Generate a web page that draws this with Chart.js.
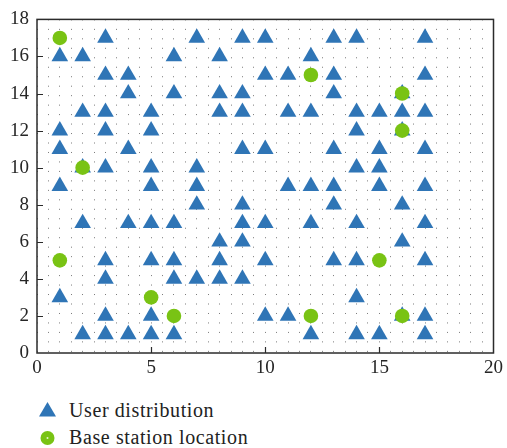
<!DOCTYPE html>
<html>
<head>
<meta charset="utf-8">
<script src="https://cdn.jsdelivr.net/npm/chart.js@4.4.1/dist/chart.umd.min.js"></script>
<style>
  html, body { margin: 0; padding: 0; background: #ffffff; }
  #wrap { position: relative; width: 507px; height: 448px; overflow: hidden; }
  #c { position: absolute; left: 0; top: 0; }
  .lg { position: absolute; left: 69px; font-family: "Liberation Serif", serif; font-size: 20px; line-height: 20px; letter-spacing: 0.6px; color: #222; white-space: nowrap; }
  .mk { position: absolute; }
</style>
</head>
<body>
<div id="wrap">
  <canvas id="c" width="507" height="392"></canvas>
  <svg class="mk" style="left:38px;top:400px" width="20" height="20">
    <polygon points="9.5,2 18,16.5 1,16.5" fill="#2f75b6"/>
  </svg>
  <div class="lg" id="lg1" style="top:400px"></div>
  <svg class="mk" style="left:38px;top:428px" width="20" height="20">
    <circle cx="9.5" cy="10" r="7" fill="#79c314"/>
    <circle cx="9.5" cy="10" r="1" fill="#e8f5d0"/>
  </svg>
  <div class="lg" id="lg2" style="top:427px"></div>
</div>
<script>
// ---- data ----
const seriesNames = ["User distribution", "Base station location"];

// user positions, one row per y value
const userRowY = [17, 16, 15, 14, 13, 12, 11, 10, 9, 8, 7, 6, 5, 4, 3, 2, 1];
const userRowX = [
  [3, 7, 9, 10, 13, 14, 17],
  [1, 2, 6, 8, 12],
  [3, 4, 10, 11, 13, 17],
  [4, 6, 8, 9, 13, 16],
  [2, 3, 5, 8, 9, 11, 12, 14, 15, 16, 17],
  [1, 3, 5, 14, 16],
  [1, 4, 9, 10, 13, 15, 17],
  [2, 3, 5, 7, 14, 15],
  [1, 5, 7, 11, 12, 13, 15, 17],
  [7, 9, 13, 16],
  [2, 4, 5, 6, 9, 10, 12, 14, 17],
  [8, 9, 16],
  [3, 5, 6, 8, 10, 13, 14, 17],
  [3, 6, 7, 8, 9],
  [1, 14],
  [3, 5, 10, 11, 16, 17],
  [2, 3, 4, 5, 6, 12, 14, 15, 17]
];

// base station positions
const baseX = [1, 12, 16, 16, 2, 1, 15, 5, 6, 12, 16];
const baseY = [17, 15, 14, 12, 10, 5, 5, 3, 2, 2, 2];

// axis tick labels
const xTickLabels = [0, 5, 10, 15, 20];
const yTickLabels = [0, 2, 4, 6, 8, 10, 12, 14, 16, 18];

// ---- build ----
const userPts = [];
userRowY.forEach((yv, i) => userRowX[i].forEach(xv => userPts.push({ x: xv, y: yv })));
const basePts = baseX.map((xv, i) => ({ x: xv, y: baseY[i] }));

document.getElementById('lg1').textContent = seriesNames[0];
document.getElementById('lg2').textContent = seriesNames[1];

Chart.defaults.font.family = '"Liberation Serif", serif';
Chart.defaults.font.size = 19;

const frameTicks = {
  id: 'frameTicks',
  beforeDatasetsDraw(chart) {
    const { ctx, chartArea: a, scales } = chart;
    const sx = scales.x, sy = scales.y;
    ctx.save();
    ctx.strokeStyle = '#2b2b2b';
    ctx.lineWidth = 1.5;
    ctx.strokeRect(a.left, a.top, a.right - a.left, a.bottom - a.top);
    ctx.lineWidth = 1.2;
    ctx.beginPath();
    xTickLabels.slice(1, -1).forEach(v => {
      const px = Math.round(sx.getPixelForValue(v)) + 0.5;
      ctx.moveTo(px, a.bottom);
      ctx.lineTo(px, a.bottom - 6);
    });
    yTickLabels.slice(1, -1).forEach(v => {
      const py = Math.round(sy.getPixelForValue(v)) + 0.5;
      ctx.moveTo(a.left, py);
      ctx.lineTo(a.left + 6, py);
    });
    ctx.stroke();
    ctx.restore();
  }
};

const tickFont = { family: '"Liberation Serif", serif', size: 19 };

const chart = new Chart(document.getElementById('c'), {
  type: 'scatter',
  data: {
    datasets: [
      {
        label: seriesNames[1],
        data: basePts,
        pointStyle: 'circle',
        pointRadius: 7.3,
        pointHoverRadius: 7.3,
        backgroundColor: '#79c314',
        borderWidth: 0,
        order: 0
      },
      {
        label: seriesNames[0],
        data: userPts,
        pointStyle: 'triangle',
        pointRadius: 9.6,
        pointHoverRadius: 9.6,
        backgroundColor: '#2f75b6',
        borderWidth: 0,
        order: 1
      }
    ]
  },
  options: {
    responsive: false,
    animation: false,
    devicePixelRatio: 1,
    layout: { padding: { top: 11, right: 10, left: 0, bottom: 0 } },
    plugins: { legend: { display: false }, tooltip: { enabled: false } },
    scales: {
      x: {
        type: 'linear',
        min: 0, max: 20,
        afterFit(s) { s.height = 39; },
        ticks: {
          stepSize: 0.5,
          autoSkip: false,
          maxRotation: 0,
          padding: 4,
          color: '#262626',
          font: tickFont,
          callback: v => xTickLabels.includes(v) ? String(v) : ''
        },
        grid: { color: '#7a7a7a', lineWidth: 1, drawTicks: false },
        border: { display: false, dash: [1, 8.47] }
      },
      y: {
        type: 'linear',
        min: 0, max: 18,
        afterFit(s) { s.width = 37; },
        ticks: {
          stepSize: 0.5,
          autoSkip: false,
          padding: 8,
          color: '#262626',
          font: tickFont,
          callback: v => yTickLabels.includes(v) ? String(v) : ''
        },
        grid: { color: 'rgba(0,0,0,0)', lineWidth: 1, drawTicks: false },
        border: { display: false }
      }
    }
  },
  plugins: [frameTicks]
});

if (document.fonts && document.fonts.load) {
  document.fonts.load('19px "Liberation Serif"').then(() => chart.update('none'));
  document.fonts.ready.then(() => chart.update('none'));
}
</script>
</body>
</html>
